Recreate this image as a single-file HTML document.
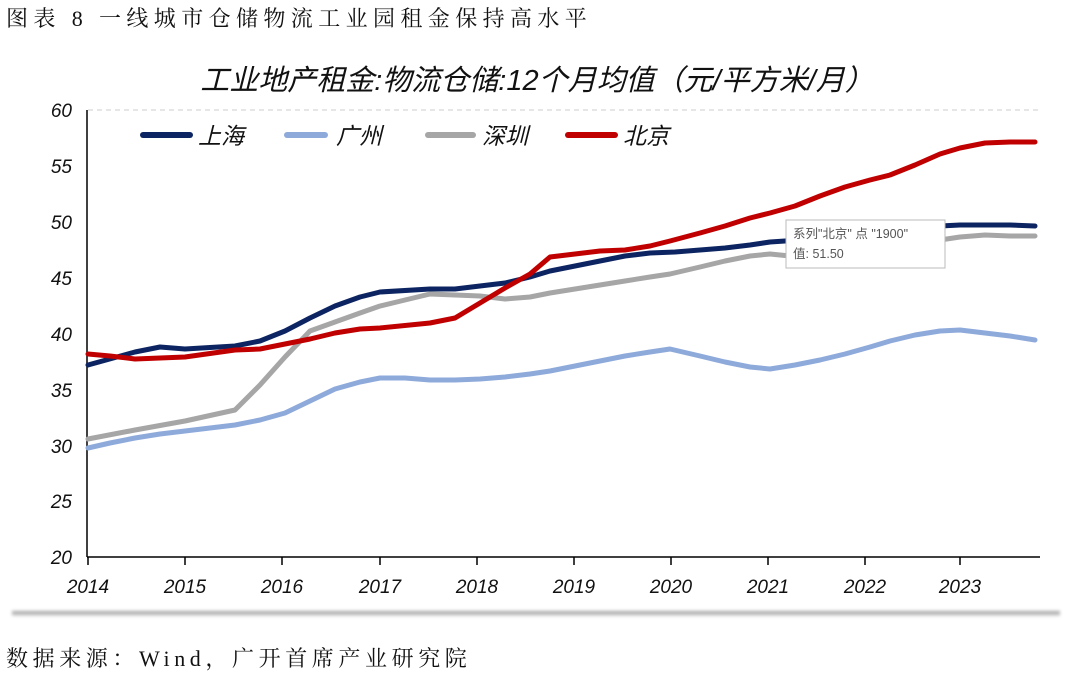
<!DOCTYPE html>
<html><head><meta charset="utf-8"><style>
body{margin:0;width:1080px;height:680px;background:#fff;overflow:hidden;font-family:"Liberation Sans","Noto Sans CJK SC",sans-serif}
.t{position:absolute;font-family:"Liberation Serif","Noto Serif CJK SC",serif;font-size:22px;color:#111;white-space:nowrap}
</style></head><body>
<div class="t" style="left:6px;top:2px;letter-spacing:5.4px">图表 8 一线城市仓储物流工业园租金保持高水平</div>
<div class="t" style="left:6px;top:642px;letter-spacing:4.6px">数据来源：Wind，广开首席产业研究院</div>
<div style="position:absolute;left:12px;top:611px;width:1048px;height:5px;background:linear-gradient(#999,#ddd);filter:blur(1.5px)"></div>
<svg width="1080" height="680" style="position:absolute;left:0;top:0" font-family="Liberation Sans, Noto Sans CJK SC, sans-serif">
<text x="537" y="90" text-anchor="middle" font-size="29" font-style="italic" fill="#111">工业地产租金:物流仓储:12个月均值（元/平方米/月）</text>
<line x1="88" y1="110" x2="1040" y2="110" stroke="#ccc" stroke-dasharray="5,4"/>
<line x1="87" y1="110" x2="87" y2="557" stroke="#000" stroke-width="1.5"/>
<line x1="87" y1="557" x2="1040" y2="557" stroke="#000" stroke-width="1.5"/>
<g font-size="19" font-style="italic" fill="#111" text-anchor="end">
<text x="72" y="117">60</text><text x="72" y="173">55</text><text x="72" y="229">50</text><text x="72" y="285">45</text><text x="72" y="341">40</text><text x="72" y="397">35</text><text x="72" y="453">30</text><text x="72" y="508">25</text><text x="72" y="564">20</text>
</g>
<g stroke="#000" stroke-width="1.5">
<line x1="88" y1="557" x2="88" y2="565"/><line x1="185" y1="557" x2="185" y2="565"/><line x1="282" y1="557" x2="282" y2="565"/><line x1="380" y1="557" x2="380" y2="565"/><line x1="477" y1="557" x2="477" y2="565"/><line x1="574" y1="557" x2="574" y2="565"/><line x1="671" y1="557" x2="671" y2="565"/><line x1="768" y1="557" x2="768" y2="565"/><line x1="865" y1="557" x2="865" y2="565"/><line x1="960" y1="557" x2="960" y2="565"/>
</g>
<g font-size="19" font-style="italic" fill="#111" text-anchor="middle">
<text x="88" y="593">2014</text><text x="185" y="593">2015</text><text x="282" y="593">2016</text><text x="380" y="593">2017</text><text x="477" y="593">2018</text><text x="574" y="593">2019</text><text x="671" y="593">2020</text><text x="768" y="593">2021</text><text x="865" y="593">2022</text><text x="960" y="593">2023</text>
</g>
<g fill="none" stroke-width="5" stroke-linejoin="round" stroke-linecap="round">
<polyline stroke="#a6a6a6" points="88,439 135,430 185,421 235,410 260,385 285,357 310,331 335,322 360,313 380,306 405,300 430,294 455,295 480,296 505,299 530,297 550,293 575,289 600,285 625,281 650,277 670,274 700,267 725,261 750,256 770,254 790,256 820,254 850,250 880,247 910,244 940,240 960,237 985,235 1010,236 1035,236"/>
<polyline stroke="#8eaadb" points="88,448 110,443 135,438 160,434 185,431 210,428 235,425 260,420 285,413 310,401 335,389 360,382 380,378 405,378 430,380 455,380 480,379 505,377 530,374 550,371 575,366 600,361 625,356 650,352 670,349 700,356 725,362 750,367 770,369 795,365 820,360 845,354 870,347 890,341 915,335 940,331 960,330 985,333 1010,336 1035,340"/>
<polyline stroke="#0c2461" points="88,365 135,352 160,347 185,349 235,346 260,341 285,331 310,318 335,306 360,297 380,292 430,289 455,289 480,286 505,283 530,277 550,271 600,261 625,256 650,253 675,252 700,250 725,248 750,245 770,242 800,240 840,236 880,232 910,229 940,226 960,225 985,225 1010,225 1035,226"/>
<polyline stroke="#c00000" points="88,354 110,356 135,359 185,357 235,350 260,349 285,344 310,339 335,333 360,329 380,328 430,323 455,318 480,303 505,288 530,274 550,257 575,254 600,251 625,250 650,246 670,241 700,233 725,226 750,218 770,213 795,206 820,196 845,187 870,180 890,175 915,165 940,154 960,148 985,143 1010,142 1035,142"/>
</g>
<g stroke-width="6" stroke-linecap="round">
<line x1="143" y1="135" x2="190" y2="135" stroke="#0c2461"/>
<line x1="287" y1="135" x2="325" y2="135" stroke="#8eaadb"/>
<line x1="428" y1="135" x2="473" y2="135" stroke="#a6a6a6"/>
<line x1="568" y1="135" x2="615" y2="135" stroke="#c00000"/>
</g>
<g font-size="23" font-style="italic" fill="#111">
<text x="198" y="144">上海</text><text x="336" y="144">广州</text><text x="482" y="144">深圳</text><text x="623" y="144">北京</text>
</g>
<rect x="786" y="220" width="159" height="48" fill="#fff" stroke="#bbb"/>
<g font-size="12.5" fill="#555"><text x="793" y="238">系列"北京" 点 "1900"</text><text x="793" y="258">值: 51.50</text></g>
</svg>
</body></html>
